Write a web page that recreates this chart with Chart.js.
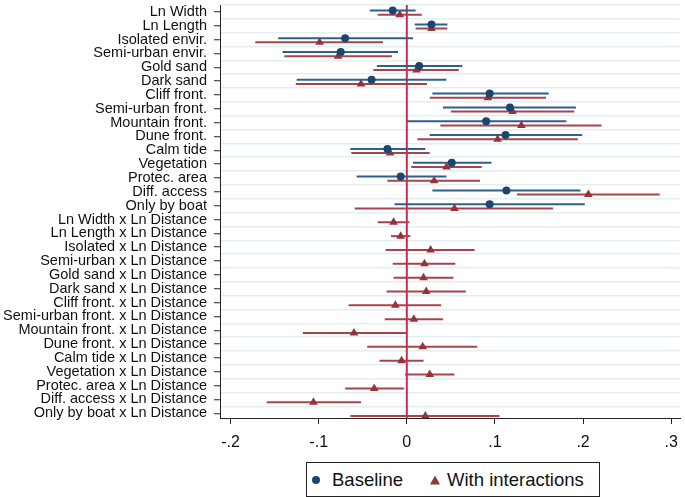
<!DOCTYPE html>
<html>
<head>
<meta charset="utf-8">
<script src="https://cdn.jsdelivr.net/npm/chart.js@4.4.1/dist/chart.umd.min.js"></script>
<style>
    body { margin: 0; background: #fff; font-family: 'Liberation Sans', Arial, sans-serif; }
    #wrap { position: relative; width: 685px; height: 497px; }
    #box { position: absolute; left: 0; top: 0; width: 685px; height: 460px; }
    #legend { position: absolute; left: 306px; top: 462px; width: 292px; height: 33px;
              border: 1px solid #222; background: #fff; color: #111; font-size: 18.5px; }
    #legend span { position: absolute; top: 50%; transform: translateY(-50%); white-space: nowrap; }
</style>
</head>
<body>
<div id="wrap">
    <div id="box"><canvas id="coefChart"></canvas></div>
    <div id="legend"></div>
</div>
<script>
// Categorias (eixo y)
const labels = [
    'Ln Width', 'Ln Length', 'Isolated envir.', 'Semi-urban envir.', 'Gold sand', 'Dark sand',
    'Cliff front.', 'Semi-urban front.', 'Mountain front.', 'Dune front.', 'Calm tide',
    'Vegetation', 'Protec. area', 'Diff. access', 'Only by boat',
    'Ln Width x Ln Distance', 'Ln Length x Ln Distance', 'Isolated x Ln Distance',
    'Semi-urban x Ln Distance', 'Gold sand x Ln Distance', 'Dark sand x Ln Distance',
    'Cliff front. x Ln Distance', 'Semi-urban front. x Ln Distance', 'Mountain front. x Ln Distance',
    'Dune front. x Ln Distance', 'Calm tide x Ln Distance', 'Vegetation x Ln Distance',
    'Protec. area x Ln Distance', 'Diff. access x Ln Distance', 'Only by boat x Ln Distance'
];

const seriesNames = ['Baseline', 'With interactions'];

// Baseline: coeficiente e intervalo
const baseCoef = [-0.016, 0.028, -0.070, -0.075, 0.014, -0.040, 0.094, 0.117, 0.090, 0.112, -0.022, 0.051, -0.007, 0.113, 0.094];
const baseLo   = [-0.042, 0.009, -0.146, -0.141, -0.034, -0.125, 0.029, 0.041, 0.000, 0.026, -0.064, 0.007, -0.057, 0.029, -0.014];
const baseHi   = [0.010, 0.046, 0.007, -0.010, 0.063, 0.045, 0.161, 0.192, 0.181, 0.199, 0.021, 0.096, 0.045, 0.197, 0.202];

// With interactions
const intCoef = [-0.008, 0.028, -0.099, -0.078, 0.011, -0.052, 0.092, 0.120, 0.130, 0.103, -0.019, 0.045, 0.031, 0.206, 0.054,
                 -0.015, -0.007, 0.027, 0.020, 0.019, 0.022, -0.013, 0.008, -0.060, 0.018, -0.006, 0.026, -0.037, -0.106, 0.021];
const intLo   = [-0.033, 0.010, -0.172, -0.139, -0.038, -0.126, 0.026, 0.050, 0.038, 0.012, -0.063, 0.005, -0.022, 0.125, -0.059,
                 -0.033, -0.018, -0.024, -0.016, -0.015, -0.023, -0.066, -0.025, -0.118, -0.045, -0.031, -0.002, -0.070, -0.159, -0.064];
const intHi   = [0.017, 0.046, -0.027, -0.017, 0.059, 0.023, 0.158, 0.190, 0.221, 0.194, 0.026, 0.085, 0.083, 0.287, 0.166,
                 0.003, 0.004, 0.077, 0.055, 0.053, 0.067, 0.039, 0.041, -0.001, 0.080, 0.019, 0.054, -0.003, -0.052, 0.105];

const xTicks = [-0.2, -0.1, 0, 0.1, 0.2, 0.3];
const xTickLabels = ['-.2', '-.1', '0', '.1', '.2', '.3'];

const blue = '#1a476f', blueCi = '#2f5f8c';
const red = '#90353b', redCi = '#a8434c';
const zeroColor = '#d22a4e';
const fontFamily = "'Liberation Sans', Arial, sans-serif";

// linha no zero + barras de intervalo de confiança
const ciBars = {
    id: 'ciBars',
    beforeDatasetsDraw(chart) {
        const ctx = chart.ctx;
        const xs = chart.scales.x, ys = chart.scales.y;
        const area = chart.chartArea;

        ctx.save();
        const x0 = xs.getPixelForValue(0);
        ctx.strokeStyle = zeroColor;
        ctx.lineWidth = 2;
        ctx.beginPath();
        ctx.moveTo(x0, area.top);
        ctx.lineTo(x0, area.bottom);
        ctx.stroke();
        ctx.restore();

        chart.data.datasets.forEach(ds => {
            ctx.save();
            ctx.strokeStyle = ds.ciColor;
            ctx.lineWidth = 2;
            ds.data.forEach((p, i) => {
                const y = ys.getPixelForValue(p.y);
                ctx.beginPath();
                ctx.moveTo(xs.getPixelForValue(ds.lo[i]), y);
                ctx.lineTo(xs.getPixelForValue(ds.hi[i]), y);
                ctx.stroke();
            });
            ctx.restore();
        });
    }
};

new Chart(document.getElementById('coefChart'), {
    type: 'scatter',
    data: {
        datasets: [{
            label: seriesNames[0],
            data: baseCoef.map((v, i) => ({ x: v, y: i - 0.1 })),
            lo: baseLo, hi: baseHi, ciColor: blueCi,
            pointStyle: 'circle', pointRadius: 4,
            backgroundColor: blue, borderColor: blue, borderWidth: 0
        }, {
            label: seriesNames[1],
            data: intCoef.map((v, i) => ({ x: v, y: i + 0.2 })),
            lo: intLo, hi: intHi, ciColor: redCi,
            pointStyle: 'triangle', pointRadius: 5,
            backgroundColor: red, borderColor: red, borderWidth: 0
        }]
    },
    options: {
        responsive: true,
        maintainAspectRatio: false,
        animation: false,
        layout: { padding: { left: 0, right: 3.6, top: 0, bottom: 0 } },
        plugins: { legend: { display: false }, tooltip: { enabled: false } },
        scales: {
            x: {
                type: 'linear',
                min: -0.212,
                max: 0.31,
                afterBuildTicks: s => { s.ticks = xTicks.map(v => ({ value: v })); },
                afterFit: s => { s.height = 42; s.paddingLeft = 0; s.paddingRight = 0; },
                ticks: {
                    autoSkip: false, maxRotation: 0,
                    callback: (v, i) => xTickLabels[i],
                    font: { family: fontFamily, size: 16 },
                    color: '#111',
                    padding: 9
                },
                grid: {
                    color: 'transparent',
                    tickColor: '#222',
                    tickWidth: 1,
                    tickLength: 6
                },
                border: { color: '#222', width: 1 }
            },
            y: {
                type: 'linear',
                reverse: true,
                min: -0.5,
                max: 29.34,
                afterBuildTicks: s => {
                    const t = [];
                    labels.forEach((l, i) => { t.push({ value: i - 0.5 }); t.push({ value: i }); });
                    s.ticks = t;
                },
                afterFit: s => { s.width = 220; s.paddingTop = 0; s.paddingBottom = 0; },
                ticks: {
                    autoSkip: false,
                    callback: v => Number.isInteger(v) ? labels[v] : '',
                    font: { family: fontFamily, size: 14.5 },
                    color: '#111',
                    padding: 7
                },
                grid: {
                    color: c => (c.tick && !Number.isInteger(c.tick.value)) ? '#e4edf0' : 'transparent',
                    tickColor: c => (c.tick && Number.isInteger(c.tick.value)) ? '#222' : 'transparent',
                    lineWidth: 1.5,
                    tickWidth: 1,
                    tickLength: 6
                },
                border: { color: '#222', width: 1 }
            }
        }
    },
    plugins: [ciBars]
});

// Legenda com caixa (HTML)
const legend = document.getElementById('legend');
legend.innerHTML =
    '<span style="left:5px;width:8px;height:8px;border-radius:50%;background:' + blue + '"></span>' +
    '<span style="left:25px">' + seriesNames[0] + '</span>' +
    '<span style="left:123px;width:0;height:0;border-left:5px solid transparent;border-right:5px solid transparent;border-bottom:9px solid ' + red + '"></span>' +
    '<span style="left:140px">' + seriesNames[1] + '</span>';
</script>
</body>
</html>
